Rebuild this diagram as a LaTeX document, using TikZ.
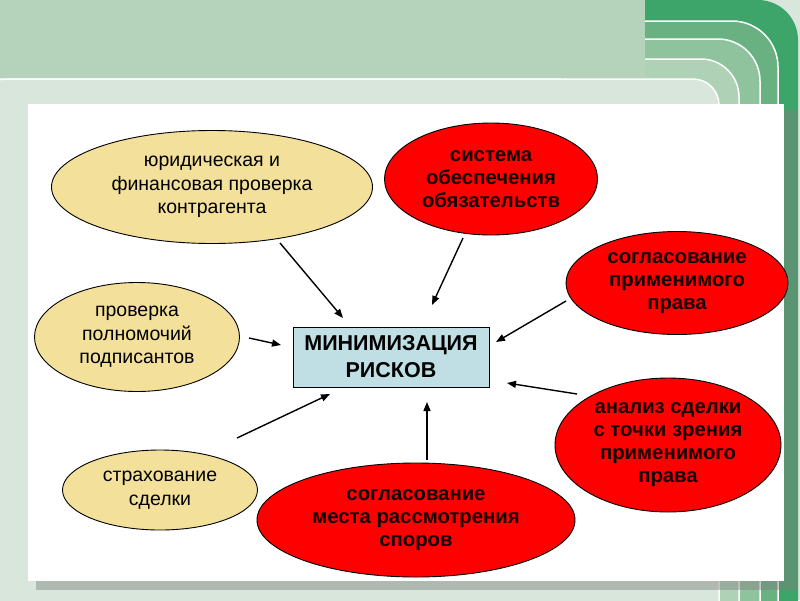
\documentclass[tikz,border=0pt]{standalone}
\usepackage{fontspec}
\setmainfont{Liberation Sans}
\usetikzlibrary{shapes.geometric,arrows.meta}
\definecolor{bgl}{HTML}{D9E6DC}
\definecolor{band}{HTML}{B4D3BA}
\definecolor{gA}{HTML}{3DA56A}
\definecolor{gB}{HTML}{6AB182}
\definecolor{gC}{HTML}{8FC39E}
\definecolor{gD}{HTML}{AFD2B7}
\definecolor{yel}{HTML}{F3E09A}
\definecolor{redf}{HTML}{FF0000}
\definecolor{boxf}{HTML}{BFDFE4}
\definecolor{rtext}{HTML}{140000}
\begin{document}
\begin{tikzpicture}[x=1pt,y=-1pt,
  yellell/.style={ellipse, draw=black, line width=0.9pt, fill=yel, inner sep=0pt, align=center,
    font=\fontsize{19.5}{23.5}\selectfont},
  redell/.style={ellipse, draw=black, line width=0.9pt, fill=redf, inner sep=0pt, align=center,
    text=rtext, font=\fontsize{20.3}{23}\selectfont\bfseries},
  centerbox/.style={rectangle, draw=black, line width=0.9pt, fill=boxf, inner sep=0pt, align=center,
    font=\fontsize{21.5}{27}\selectfont\bfseries},
  arr/.style={-{Triangle[length=9pt,width=7pt]}, line width=1.4pt},
  stripe/.style={draw=white, line width=1.5pt}]
\useasboundingbox (0,0) rectangle (800,600);
\clip (0,0) rectangle (800,600);
% background
\fill[bgl] (0,0) rectangle (800,600);
\fill[gA, rounded corners=40pt] (560,0) rectangle (798,680);
\filldraw[stripe, fill=gB, rounded corners=46pt] (560,21) rectangle (778,680);
\filldraw[stripe, fill=gC, rounded corners=42pt] (560,39) rectangle (760,680);
\filldraw[stripe, fill=gD, rounded corners=38pt] (560,59) rectangle (739,680);
\filldraw[stripe, fill=bgl, rounded corners=26pt] (-20,79) rectangle (719,680);
\fill[band] (0,0) rectangle (645,78);
% shadow and white panel
\fill[gray, opacity=0.45] (36,110) rectangle (797,590);
\fill[white] (28,104) rectangle (784,581);
% nodes
\node[yellell, minimum width=321pt, minimum height=113pt] (y1) at (212,187) {юридическая и\\финансовая проверка\\контрагента};
\node[redell, minimum width=213pt, minimum height=112pt] (r1) at (491,179) {система\\обеспечения\\обязательств};
\node[redell, minimum width=222pt, minimum height=103pt] (r2) at (677,283) {согласование\\применимого\\права};
\node[yellell, minimum width=205pt, minimum height=109pt] (y2) at (137,337) {проверка\\полномочий\\подписантов};
\node[centerbox, minimum width=196pt, minimum height=60pt] (box) at (391,357) {МИНИМИЗАЦИЯ\\РИСКОВ};
\node[redell, minimum width=226pt, minimum height=134pt] (r3) at (668,445) {анализ сделки\\с точки зрения\\применимого\\права};
\node[yellell, minimum width=195pt, minimum height=80pt] (y3) at (160,490) {страхование\\сделки};
\node[redell, minimum width=318pt, minimum height=114pt] (r4) at (416,520) {согласование\\места рассмотрения\\споров};
% connector ends
\coordinate (s1) at (280,243); \coordinate (e1) at (343,318);
\coordinate (s2) at (463,238); \coordinate (e2) at (432,305);
\coordinate (s3) at (566,301); \coordinate (e3) at (496,342);
\coordinate (s4) at (249,338); \coordinate (e4) at (281,345);
\coordinate (s5) at (577,394); \coordinate (e5) at (507,383);
\coordinate (s6) at (237,438); \coordinate (e6) at (330,394);
\coordinate (s7) at (427,460); \coordinate (e7) at (427,402);
\draw[arr] (s1) -- (e1);
\draw[arr] (s2) -- (e2);
\draw[arr] (s3) -- (e3);
\draw[arr] (s4) -- (e4);
\draw[arr] (s5) -- (e5);
\draw[arr] (s6) -- (e6);
\draw[arr] (s7) -- (e7);
\end{tikzpicture}
\end{document}
